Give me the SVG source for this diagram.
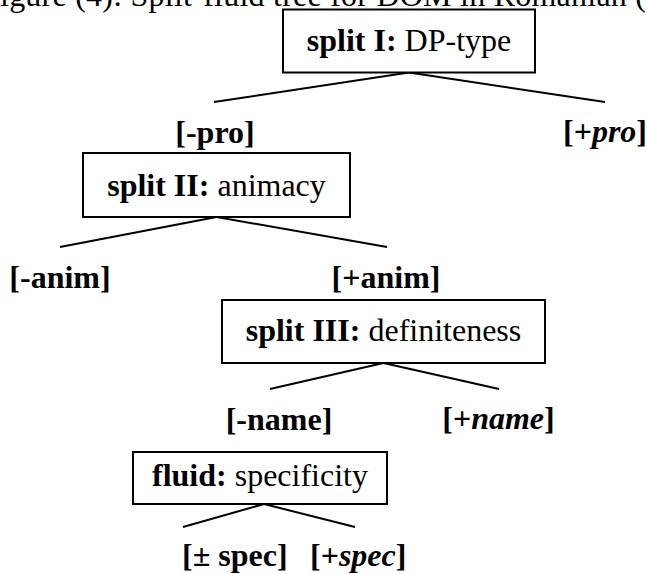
<svg xmlns="http://www.w3.org/2000/svg" width="647" height="574" viewBox="0 0 647 574">
<style>
text{font-family:"Liberation Serif","Times New Roman",serif;font-size:32px;fill:#000}
.c{text-anchor:middle}
.b{font-weight:bold}
.bi{font-weight:bold;font-style:italic}
.box{fill:#fff;stroke:#000;stroke-width:2}
.ln{stroke:#000;stroke-width:2;fill:none}
</style>
<rect width="647" height="574" fill="#fff"/>
<text id="title" x="0" y="6" textLength="646" lengthAdjust="spacing">igure (4): Split-fluid tree for DOM in Romanian (</text>
<g id="connectors">
<line class="ln" x1="409" y1="72.5" x2="214" y2="102"/>
<line class="ln" x1="409" y1="72.5" x2="605" y2="102"/>
<line class="ln" x1="216.5" y1="217" x2="60" y2="247"/>
<line class="ln" x1="216.5" y1="217" x2="387" y2="247"/>
<line class="ln" x1="383.5" y1="363" x2="270" y2="389"/>
<line class="ln" x1="383.5" y1="363" x2="499" y2="389"/>
<line class="ln" x1="264" y1="504" x2="183" y2="527"/>
<line class="ln" x1="264" y1="504" x2="355" y2="527"/>
</g>
<g id="split1">
<rect class="box" x="283" y="9.5" width="252" height="63"/>
<text class="c" x="409" y="51"><tspan class="b">split I:</tspan> DP-type</text>
</g>
<g id="pro-minus"><text class="c b" x="215" y="143">[-pro]</text></g>
<g id="pro-plus"><text class="c b" x="605" y="142">[+<tspan class="bi">pro</tspan>]</text></g>
<g id="split2">
<rect class="box" x="83" y="153" width="267" height="64"/>
<text class="c" x="216.5" y="196"><tspan class="b">split II:</tspan> animacy</text>
</g>
<g id="anim-minus"><text class="c b" x="60" y="288">[-anim]</text></g>
<g id="anim-plus"><text class="c b" x="386" y="288">[+anim]</text></g>
<g id="split3">
<rect class="box" x="222" y="300" width="323" height="63"/>
<text class="c" x="383.5" y="341"><tspan class="b">split III:</tspan> definiteness</text>
</g>
<g id="name-minus"><text class="c b" x="279" y="430">[-name]</text></g>
<g id="name-plus"><text class="c b" x="498.5" y="429">[+<tspan class="bi">name</tspan>]</text></g>
<g id="fluid">
<rect class="box" x="133" y="452" width="254" height="52"/>
<text class="c" x="260" y="486"><tspan class="b">fluid:</tspan> specificity</text>
</g>
<g id="spec-pm"><text class="b" x="182" y="566">[± spec]</text></g>
<g id="spec-plus"><text class="b" x="310" y="566">[+<tspan class="bi">spec</tspan>]</text></g>
</svg>
